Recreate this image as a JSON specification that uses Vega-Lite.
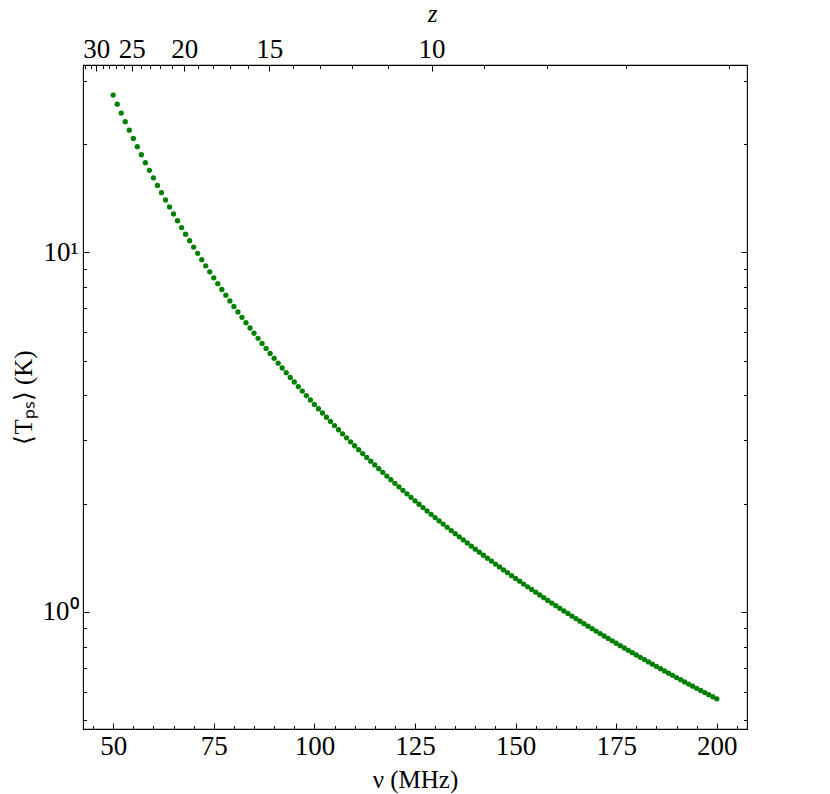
{
  "$schema": "https://vega.github.io/schema/vega-lite/v6.json",
  "width": 664,
  "height": 664,
  "autosize": {"type": "none"},
  "padding": {"left": 83, "top": 65, "right": 83, "bottom": 65},
  "background": "white",
  "config": {
    "view": {"stroke": "black", "strokeWidth": 1.1},
    "axis": {
      "grid": false,
      "domain": false,
      "labelFont": "Liberation Serif, serif",
      "titleFont": "Liberation Serif, serif",
      "labelFontSize": 27,
      "titleFontSize": 25,
      "titleFontWeight": "normal",
      "labelColor": "black",
      "titleColor": "black",
      "tickColor": "black",
      "tickWidth": 1,
      "labelOverlap": false,
      "labelFlush": false,
      "labelBound": false
    }
  },
  "data": {
    "values": [
      {"nu": 50, "T": 27.37}, {"nu": 51, "T": 25.83}, {"nu": 52, "T": 24.40}, {"nu": 53, "T": 23.08}, {"nu": 54, "T": 21.86},
      {"nu": 55, "T": 20.73}, {"nu": 56, "T": 19.67}, {"nu": 57, "T": 18.68}, {"nu": 58, "T": 17.76}, {"nu": 59, "T": 16.91},
      {"nu": 60, "T": 16.11}, {"nu": 61, "T": 15.35}, {"nu": 62, "T": 14.65}, {"nu": 63, "T": 13.99}, {"nu": 64, "T": 13.37},
      {"nu": 65, "T": 12.79}, {"nu": 66, "T": 12.24}, {"nu": 67, "T": 11.72}, {"nu": 68, "T": 11.23}, {"nu": 69, "T": 10.77},
      {"nu": 70, "T": 10.34}, {"nu": 71, "T": 9.928}, {"nu": 72, "T": 9.540}, {"nu": 73, "T": 9.172}, {"nu": 74, "T": 8.823},
      {"nu": 75, "T": 8.492}, {"nu": 76, "T": 8.178}, {"nu": 77, "T": 7.880}, {"nu": 78, "T": 7.597}, {"nu": 79, "T": 7.327},
      {"nu": 80, "T": 7.070}, {"nu": 81, "T": 6.825}, {"nu": 82, "T": 6.593}, {"nu": 83, "T": 6.371}, {"nu": 84, "T": 6.159},
      {"nu": 85, "T": 5.956}, {"nu": 86, "T": 5.763}, {"nu": 87, "T": 5.578}, {"nu": 88, "T": 5.402}, {"nu": 89, "T": 5.233},
      {"nu": 90, "T": 5.071}, {"nu": 91, "T": 4.916}, {"nu": 92, "T": 4.767}, {"nu": 93, "T": 4.625}, {"nu": 94, "T": 4.489},
      {"nu": 95, "T": 4.358}, {"nu": 96, "T": 4.232}, {"nu": 97, "T": 4.111}, {"nu": 98, "T": 3.995}, {"nu": 99, "T": 3.883},
      {"nu": 100, "T": 3.776}, {"nu": 101, "T": 3.672}, {"nu": 102, "T": 3.573}, {"nu": 103, "T": 3.477}, {"nu": 104, "T": 3.385},
      {"nu": 105, "T": 3.296}, {"nu": 106, "T": 3.210}, {"nu": 107, "T": 3.128}, {"nu": 108, "T": 3.048}, {"nu": 109, "T": 2.971},
      {"nu": 110, "T": 2.897}, {"nu": 111, "T": 2.825}, {"nu": 112, "T": 2.756}, {"nu": 113, "T": 2.689}, {"nu": 114, "T": 2.624},
      {"nu": 115, "T": 2.562}, {"nu": 116, "T": 2.501}, {"nu": 117, "T": 2.443}, {"nu": 118, "T": 2.386}, {"nu": 119, "T": 2.331},
      {"nu": 120, "T": 2.278}, {"nu": 121, "T": 2.227}, {"nu": 122, "T": 2.177}, {"nu": 123, "T": 2.129}, {"nu": 124, "T": 2.082},
      {"nu": 125, "T": 2.036}, {"nu": 126, "T": 1.992}, {"nu": 127, "T": 1.950}, {"nu": 128, "T": 1.908}, {"nu": 129, "T": 1.868},
      {"nu": 130, "T": 1.829}, {"nu": 131, "T": 1.791}, {"nu": 132, "T": 1.754}, {"nu": 133, "T": 1.718}, {"nu": 134, "T": 1.683},
      {"nu": 135, "T": 1.650}, {"nu": 136, "T": 1.617}, {"nu": 137, "T": 1.585}, {"nu": 138, "T": 1.554}, {"nu": 139, "T": 1.523},
      {"nu": 140, "T": 1.494}, {"nu": 141, "T": 1.465}, {"nu": 142, "T": 1.437}, {"nu": 143, "T": 1.410}, {"nu": 144, "T": 1.384},
      {"nu": 145, "T": 1.358}, {"nu": 146, "T": 1.333}, {"nu": 147, "T": 1.308}, {"nu": 148, "T": 1.285}, {"nu": 149, "T": 1.261},
      {"nu": 150, "T": 1.239}, {"nu": 151, "T": 1.217}, {"nu": 152, "T": 1.195}, {"nu": 153, "T": 1.174}, {"nu": 154, "T": 1.154},
      {"nu": 155, "T": 1.134}, {"nu": 156, "T": 1.114}, {"nu": 157, "T": 1.095}, {"nu": 158, "T": 1.076}, {"nu": 159, "T": 1.058},
      {"nu": 160, "T": 1.040}, {"nu": 161, "T": 1.023}, {"nu": 162, "T": 1.006}, {"nu": 163, "T": 0.9896}, {"nu": 164, "T": 0.9735},
      {"nu": 165, "T": 0.9577}, {"nu": 166, "T": 0.9422}, {"nu": 167, "T": 0.9271}, {"nu": 168, "T": 0.9124}, {"nu": 169, "T": 0.8980},
      {"nu": 170, "T": 0.8839}, {"nu": 171, "T": 0.8700}, {"nu": 172, "T": 0.8566}, {"nu": 173, "T": 0.8433}, {"nu": 174, "T": 0.8304},
      {"nu": 175, "T": 0.8178}, {"nu": 176, "T": 0.8054}, {"nu": 177, "T": 0.7933}, {"nu": 178, "T": 0.7814}, {"nu": 179, "T": 0.7698},
      {"nu": 180, "T": 0.7584}, {"nu": 181, "T": 0.7473}, {"nu": 182, "T": 0.7364}, {"nu": 183, "T": 0.7257}, {"nu": 184, "T": 0.7152},
      {"nu": 185, "T": 0.7049}, {"nu": 186, "T": 0.6949}, {"nu": 187, "T": 0.6850}, {"nu": 188, "T": 0.6753}, {"nu": 189, "T": 0.6659},
      {"nu": 190, "T": 0.6566}, {"nu": 191, "T": 0.6475}, {"nu": 192, "T": 0.6385}, {"nu": 193, "T": 0.6297}, {"nu": 194, "T": 0.6212},
      {"nu": 195, "T": 0.6128}, {"nu": 196, "T": 0.6045}, {"nu": 197, "T": 0.5963}, {"nu": 198, "T": 0.5884}, {"nu": 199, "T": 0.5806},
      {"nu": 200, "T": 0.5729}
    ]
  },
  "layer": [
    {
      "mark": {"type": "circle", "size": 28, "color": "#008000", "opacity": 1},
      "encoding": {
        "x": {
          "field": "nu",
          "type": "quantitative",
          "scale": {"domain": [42.5, 207.5], "nice": false, "zero": false},
          "axis": {
            "orient": "bottom",
            "values": [45, 50, 55, 60, 65, 70, 75, 80, 85, 90, 95, 100, 105, 110, 115, 120, 125, 130, 135, 140, 145, 150, 155, 160, 165, 170, 175, 180, 185, 190, 195, 200, 205],
            "labelExpr": "datum.value % 25 == 0 ? datum.label : ''",
            "tickSize": {"condition": {"test": "datum.value % 25 == 0", "value": -6}, "value": -3.5},
            "labelPadding": 31,
            "labelBaseline": "alphabetic",
            "title": "ν (MHz)",
            "titleX": 332,
            "titleY": 58,
            "titleBaseline": "alphabetic",
            "titleAlign": "center"
          }
        },
        "y": {
          "field": "T",
          "type": "quantitative",
          "scale": {"type": "log", "domain": [0.4722, 33.19], "nice": false},
          "axis": {
            "orient": "left",
            "values": [0.5, 0.6, 0.7, 0.8, 0.9, 1, 2, 3, 4, 5, 6, 7, 8, 9, 10, 20, 30],
            "labelExpr": "datum.value == 1 ? '10⁰' : (datum.value == 10 ? '10¹' : '')",
            "tickSize": {"condition": {"test": "datum.value == 1 || datum.value == 10", "value": -6}, "value": -3.5},
            "labelPadding": 11,
            "labelAlign": "right",
            "labelBaseline": "middle",
            "title": "⟨Tₚₛ⟩ (K)",
            "titleX": -52,
            "titleY": 332,
            "titleAngle": -90,
            "titleAlign": "center",
            "titleBaseline": "alphabetic"
          }
        }
      }
    },
    {
      "mark": {"type": "circle", "size": 28, "opacity": 0},
      "encoding": {
        "x": {
          "field": "nu",
          "type": "quantitative",
          "scale": {"domain": [42.5, 207.5], "nice": false, "zero": false},
          "axis": {
            "orient": "top",
            "values": [43.042, 44.388, 45.819, 47.347, 48.979, 50.729, 52.607, 54.631, 56.816, 59.183, 61.757, 64.564, 67.638, 71.02, 74.758, 78.911, 83.553, 88.775, 94.693, 101.457, 109.262, 118.367, 129.127, 142.04, 157.822, 177.55, 202.914],
            "labelExpr": "indexof([30, 25, 20, 15, 10], round(1420.4 / datum.value - 1)) >= 0 ? '' + round(1420.4 / datum.value - 1) : ''",
            "tickSize": {"condition": {"test": "indexof([30, 25, 20, 15, 10], round(1420.4 / datum.value - 1)) >= 0", "value": -6}, "value": -3.5},
            "labelPadding": 14,
            "labelBaseline": "alphabetic",
            "title": "z",
            "titleFontStyle": "italic",
            "titleX": 349,
            "titleY": -44,
            "titleBaseline": "alphabetic",
            "titleAlign": "center"
          }
        },
        "y": {
          "field": "T",
          "type": "quantitative",
          "scale": {"type": "log", "domain": [0.4722, 33.19], "nice": false},
          "axis": {
            "orient": "right",
            "values": [0.5, 0.6, 0.7, 0.8, 0.9, 1, 2, 3, 4, 5, 6, 7, 8, 9, 10, 20, 30],
            "labels": false,
            "tickSize": {"condition": {"test": "datum.value == 1 || datum.value == 10", "value": -6}, "value": -3.5},
            "title": null
          }
        }
      }
    }
  ]
}
